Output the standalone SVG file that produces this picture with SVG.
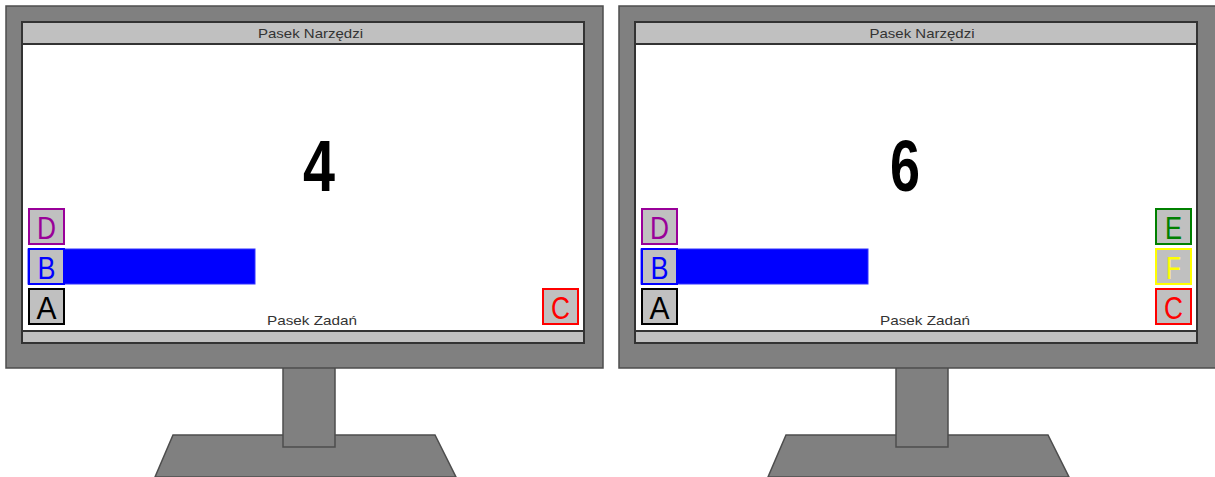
<svg xmlns="http://www.w3.org/2000/svg" width="1215" height="477" viewBox="0 0 1215 477">
<style>
.body{fill:#808080;stroke:#4d4d4d;stroke-width:1.5}
.screen{fill:#ffffff;stroke:#333333;stroke-width:2}
.bar{fill:#c0c0c0;stroke:#333333;stroke-width:2}
.lbl{font-family:"Liberation Sans",Arial,sans-serif;font-size:13px;fill:#333333;text-anchor:middle}
.big{font-family:"Liberation Sans",Arial,sans-serif;font-size:72px;font-weight:bold;fill:#000000;text-anchor:middle}
.box{fill:#c0c0c0;stroke-width:2}
.let{font-family:"Liberation Sans",Arial,sans-serif;font-size:32px;text-anchor:middle}
</style>
<g id="monitor-left">
  <polygon class="body" points="173,435 435,435 456,477 155,477"/>
  <rect class="body" x="283" y="366" width="52" height="81"/>
  <rect class="body" x="6" y="6" width="597" height="362"/>
  <rect class="screen" x="22" y="22" width="562" height="321"/>
  <rect class="bar" x="22" y="22" width="562" height="22"/>
  <rect class="bar" x="22" y="331" width="562" height="12"/>
  <text class="lbl" x="310.5" y="38" textLength="105" lengthAdjust="spacingAndGlyphs">Pasek Narzędzi</text>
  <text class="lbl" x="312" y="325" textLength="90" lengthAdjust="spacingAndGlyphs">Pasek Zadań</text>
  <text class="big" x="319" y="191" textLength="32" lengthAdjust="spacingAndGlyphs">4</text>
  <g id="L-D"><rect class="box" x="29" y="209" width="35" height="35" stroke="#990099"/><text class="let" x="46.5" y="239" fill="#990099" textLength="19" lengthAdjust="spacingAndGlyphs">D</text></g>
  <g id="L-B"><rect x="28" y="249" width="227" height="35" fill="#0000ff" stroke="#3333ff" stroke-width="1"/><rect class="box" x="29" y="249" width="35" height="35" stroke="#0000ff"/><text class="let" x="46.5" y="279" fill="#0000ff" textLength="18" lengthAdjust="spacingAndGlyphs">B</text></g>
  <g id="L-A"><rect class="box" x="29" y="289" width="35" height="35" stroke="#000000"/><text class="let" x="46.5" y="319" fill="#000000" textLength="20" lengthAdjust="spacingAndGlyphs">A</text></g>
  <g id="L-C"><rect class="box" x="543" y="289" width="35" height="35" stroke="#ff0000"/><text class="let" x="560.5" y="319" fill="#ff0000" textLength="19" lengthAdjust="spacingAndGlyphs">C</text></g>
</g>
<g id="monitor-right" transform="translate(613,0)">
  <polygon class="body" points="173,435 435,435 456,477 155,477"/>
  <rect class="body" x="283" y="366" width="52" height="81"/>
  <rect class="body" x="6" y="6" width="597" height="362"/>
  <rect class="screen" x="22" y="22" width="562" height="321"/>
  <rect class="bar" x="22" y="22" width="562" height="22"/>
  <rect class="bar" x="22" y="331" width="562" height="12"/>
  <text class="lbl" x="309" y="38" textLength="105" lengthAdjust="spacingAndGlyphs">Pasek Narzędzi</text>
  <text class="lbl" x="312" y="325" textLength="90" lengthAdjust="spacingAndGlyphs">Pasek Zadań</text>
  <text class="big" x="292" y="191" textLength="30" lengthAdjust="spacingAndGlyphs">6</text>
  <g id="R-D"><rect class="box" x="29" y="209" width="35" height="35" stroke="#990099"/><text class="let" x="46.5" y="239" fill="#990099" textLength="19" lengthAdjust="spacingAndGlyphs">D</text></g>
  <g id="R-B"><rect x="28" y="249" width="227" height="35" fill="#0000ff" stroke="#3333ff" stroke-width="1"/><rect class="box" x="29" y="249" width="35" height="35" stroke="#0000ff"/><text class="let" x="46.5" y="279" fill="#0000ff" textLength="18" lengthAdjust="spacingAndGlyphs">B</text></g>
  <g id="R-A"><rect class="box" x="29" y="289" width="35" height="35" stroke="#000000"/><text class="let" x="46.5" y="319" fill="#000000" textLength="20" lengthAdjust="spacingAndGlyphs">A</text></g>
  <g id="R-E"><rect class="box" x="543" y="209" width="35" height="35" stroke="#008000"/><text class="let" x="560.5" y="239" fill="#008000" textLength="17" lengthAdjust="spacingAndGlyphs">E</text></g>
  <g id="R-F"><rect class="box" x="543" y="249" width="35" height="35" stroke="#ffff00"/><text class="let" x="560.5" y="279" fill="#ffff00" textLength="15" lengthAdjust="spacingAndGlyphs">F</text></g>
  <g id="R-C"><rect class="box" x="543" y="289" width="35" height="35" stroke="#ff0000"/><text class="let" x="560.5" y="319" fill="#ff0000" textLength="19" lengthAdjust="spacingAndGlyphs">C</text></g>
</g>
<g id="connectors"/>
</svg>
